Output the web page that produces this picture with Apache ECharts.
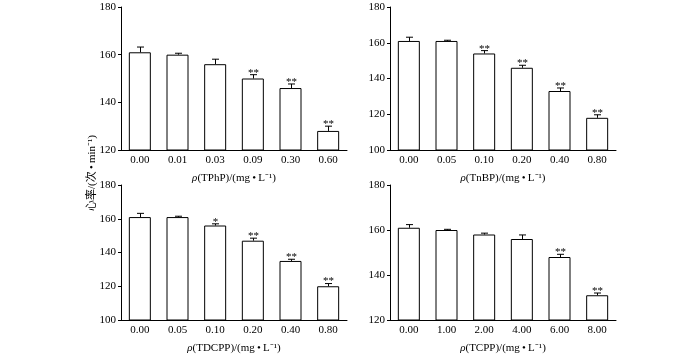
<!DOCTYPE html>
<html>
<head>
<meta charset="utf-8">
<script src="https://cdn.jsdelivr.net/npm/echarts@6/dist/echarts.min.js"></script>
<style>
  html, body { margin: 0; padding: 0; background: #fff; }
  #chart { width: 700px; height: 355px; }
</style>
</head>
<body>
<div id="chart"></div>
<script>
// TPhP panel
const catsTPhP = ['0.00', '0.01', '0.03', '0.09', '0.30', '0.60'];
const meanTPhP = [161, 160, 156, 150, 146, 128];
const errTPhP = [2.2, 0.6, 2.1, 1.6, 1.7, 2.0];
const sigTPhP = ['', '', '', '**', '**', '**'];

// TnBP panel
const catsTnBP = ['0.00', '0.05', '0.10', '0.20', '0.40', '0.80'];
const meanTnBP = [161, 161, 154, 146, 133, 118];
const errTnBP = [2.1, 0.4, 1.6, 1.4, 1.7, 1.7];
const sigTnBP = ['', '', '**', '**', '**', '**'];

// TDCPP panel
const catsTDCPP = ['0.00', '0.05', '0.10', '0.20', '0.40', '0.80'];
const meanTDCPP = [161, 161, 156, 147, 135, 120];
const errTDCPP = [2.2, 0.5, 1.0, 1.5, 1.0, 1.6];
const sigTDCPP = ['', '', '*', '**', '**', '**'];

// TCPP panel
const catsTCPP = ['0.00', '1.00', '2.00', '4.00', '6.00', '8.00'];
const meanTCPP = [161, 160, 158, 156, 148, 131];
const errTCPP = [1.4, 0.3, 0.6, 1.8, 1.2, 1.0];
const sigTCPP = ['', '', '', '', '**', '**'];

const yTitle = '心率/(次\u2009•\u2009min⁻¹)';
const font = '"Liberation Serif", "Noto Sans CJK SC", serif';

const panels = [
  { name: 'TPhP', cats: catsTPhP, mean: meanTPhP, err: errTPhP, sig: sigTPhP, min: 120, grid: { left: 121, top: 7, width: 226, height: 143 } },
  { name: 'TnBP', cats: catsTnBP, mean: meanTnBP, err: errTnBP, sig: sigTnBP, min: 100, grid: { left: 390, top: 7, width: 226, height: 143 } },
  { name: 'TDCPP', cats: catsTDCPP, mean: meanTDCPP, err: errTDCPP, sig: sigTDCPP, min: 100, grid: { left: 121, top: 185, width: 226, height: 143 } },
  { name: 'TCPP', cats: catsTCPP, mean: meanTCPP, err: errTCPP, sig: sigTCPP, min: 120, grid: { left: 390, top: 185, width: 226, height: 143 } }
];

const chart = echarts.init(document.getElementById('chart'));

const grids = [], xAxes = [], yAxes = [], series = [];

panels.forEach((p, i) => {
  grids.push(p.grid);
  xAxes.push({
    type: 'category',
    gridIndex: i,
    data: p.cats,
    axisLine: { lineStyle: { color: '#000', width: 1 } },
    axisTick: { show: false },
    axisLabel: { color: '#000', fontFamily: font, fontSize: 11, margin: 5 },
    name: '{i|ρ}(' + p.name + ')/(mg\u2009•\u2009L⁻¹)',
    nameLocation: 'middle',
    nameGap: 23,
    nameTextStyle: {
      color: '#000', fontFamily: font, fontSize: 11,
      rich: { i: { fontStyle: 'italic', fontFamily: font, fontSize: 11, color: '#000' } }
    }
  });
  yAxes.push({
    type: 'value',
    gridIndex: i,
    min: p.min,
    max: 180,
    interval: 20,
    axisLine: { show: true, lineStyle: { color: '#000', width: 1 } },
    axisTick: { show: true, length: 3, lineStyle: { color: '#000' } },
    axisLabel: { color: '#000', fontFamily: font, fontSize: 11, margin: 5 },
    splitLine: { show: false }
  });
  series.push({
    type: 'bar',
    xAxisIndex: i,
    yAxisIndex: i,
    data: p.mean,
    barWidth: 22,
    itemStyle: { color: '#fff', borderColor: '#000', borderWidth: 1 },
    silent: true
  });
  series.push({
    type: 'custom',
    xAxisIndex: i,
    yAxisIndex: i,
    z: 5,
    data: p.mean.map((m, k) => [k, m, m + p.err[k]]),
    renderItem: function (params, api) {
      const x = api.value(0);
      const lo = api.coord([x, api.value(1)]);
      const hi = api.coord([x, api.value(2)]);
      const cx = Math.round(lo[0]) + 0.5;
      const children = [
        { type: 'line', shape: { x1: cx, y1: lo[1], x2: cx, y2: hi[1] }, style: { stroke: '#000', lineWidth: 1 } },
        { type: 'line', shape: { x1: cx - 3.5, y1: hi[1], x2: cx + 3.5, y2: hi[1] }, style: { stroke: '#000', lineWidth: 1 } }
      ];
      const s = p.sig[params.dataIndex];
      if (s) {
        children.push({
          type: 'text',
          x: cx,
          y: hi[1] - 2,
          style: { text: s, fill: '#000', font: '11px ' + font, textAlign: 'center', textVerticalAlign: 'middle' }
        });
      }
      return { type: 'group', children: children };
    }
  });
});

chart.setOption({
  animation: false,
  backgroundColor: '#fff',
  grid: grids,
  xAxis: xAxes,
  yAxis: yAxes,
  series: series,
  graphic: [{
    type: 'text',
    x: 92,
    y: 173,
    rotation: Math.PI / 2,
    style: { text: yTitle, fill: '#000', font: '11px ' + font, textAlign: 'center', textVerticalAlign: 'middle' }
  }]
});
</script>
</body>
</html>
